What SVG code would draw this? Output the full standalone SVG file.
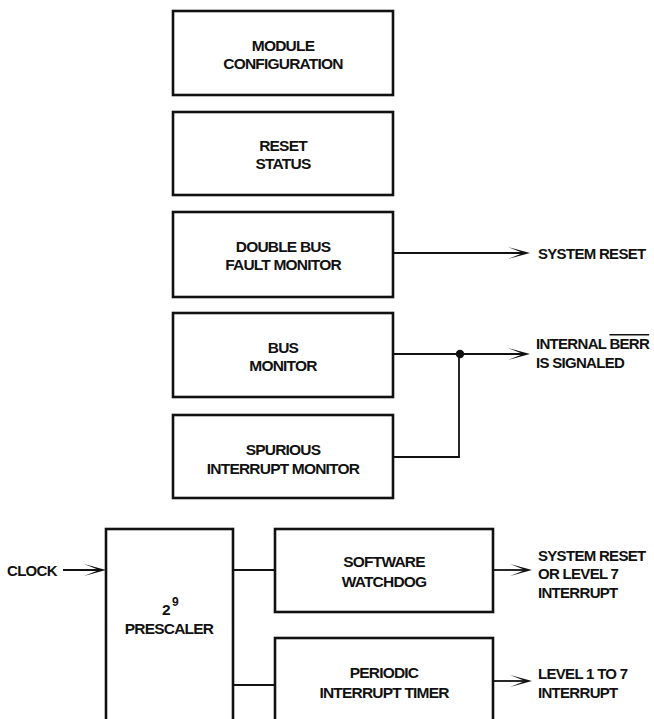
<svg xmlns="http://www.w3.org/2000/svg" width="654" height="719" viewBox="0 0 654 719">
<style>
.box{fill:#fff;stroke:#111;stroke-width:2.6}
.ln{fill:none;stroke:#111;stroke-width:1.8}
text{font-family:"Liberation Sans",Arial,sans-serif;font-weight:bold;font-size:15.5px;letter-spacing:-0.8px;fill:#111}
.c{text-anchor:middle}
.lb{font-size:15px;letter-spacing:-0.7px}
</style>
<defs>
<marker id="dart" markerUnits="userSpaceOnUse" viewBox="0 -7 23 14" refX="15" refY="0" markerWidth="23" markerHeight="14" orient="auto">
<path d="M22,0 L0,-6 L15,0 L0,6 Z" fill="#111"/>
</marker>
</defs>
<rect width="654" height="719" fill="#fff"/>
<g id="connectors">
<line class="ln" x1="393" y1="253" x2="523" y2="253" marker-end="url(#dart)"/>
<line class="ln" x1="393" y1="354" x2="523" y2="354" marker-end="url(#dart)"/>
<polyline class="ln" points="393,457 459,457 459,354"/>
<circle cx="460" cy="354" r="4.2" fill="#111"/>
<line class="ln" x1="63" y1="570" x2="99" y2="570" marker-end="url(#dart)"/>
<line class="ln" x1="233" y1="570" x2="275" y2="570"/>
<line class="ln" x1="233" y1="685" x2="275" y2="685"/>
<line class="ln" x1="493" y1="570" x2="525" y2="570" marker-end="url(#dart)"/>
<line class="ln" x1="493" y1="681" x2="525" y2="681" marker-end="url(#dart)"/>
</g>
<g id="module-configuration">
<rect class="box" x="173" y="11" width="220" height="84"/>
<text class="c" x="283" y="51">MODULE</text>
<text class="c" x="283" y="69">CONFIGURATION</text>
</g>
<g id="reset-status">
<rect class="box" x="173" y="112" width="220" height="83"/>
<text class="c" x="283" y="151">RESET</text>
<text class="c" x="283" y="169">STATUS</text>
</g>
<g id="double-bus-fault-monitor">
<rect class="box" x="173" y="212" width="220" height="85"/>
<text class="c" x="283" y="252">DOUBLE BUS</text>
<text class="c" x="283" y="270">FAULT MONITOR</text>
</g>
<g id="bus-monitor">
<rect class="box" x="173" y="313" width="220" height="84"/>
<text class="c" x="283" y="353">BUS</text>
<text class="c" x="283" y="371">MONITOR</text>
</g>
<g id="spurious-interrupt-monitor">
<rect class="box" x="173" y="415" width="220" height="83"/>
<text class="c" x="283" y="455">SPURIOUS</text>
<text class="c" x="283" y="474">INTERRUPT MONITOR</text>
</g>
<g id="prescaler">
<rect class="box" x="106" y="529" width="127" height="200"/>
<text x="162" y="615">2</text>
<text x="172" y="606" style="font-size:12px">9</text>
<text class="c" x="169" y="634">PRESCALER</text>
</g>
<g id="software-watchdog">
<rect class="box" x="275" y="529" width="218" height="83"/>
<text class="c" x="384" y="567">SOFTWARE</text>
<text class="c" x="384" y="587">WATCHDOG</text>
</g>
<g id="periodic-interrupt-timer">
<rect class="box" x="275" y="638" width="218" height="90"/>
<text class="c" x="384" y="678">PERIODIC</text>
<text class="c" x="384" y="698">INTERRUPT TIMER</text>
</g>
<g id="labels">
<text class="lb" x="7" y="576">CLOCK</text>
<text class="lb" x="538" y="259">SYSTEM RESET</text>
<text class="lb" x="536" y="349">INTERNAL <tspan style="text-decoration:overline">BERR</tspan></text>
<text class="lb" x="536" y="368">IS SIGNALED</text>
<text class="lb" x="538" y="561">SYSTEM RESET</text>
<text class="lb" x="538" y="579">OR LEVEL 7</text>
<text class="lb" x="538" y="598">INTERRUPT</text>
<text class="lb" x="538" y="679">LEVEL 1 TO 7</text>
<text class="lb" x="538" y="698">INTERRUPT</text>
</g>
</svg>
